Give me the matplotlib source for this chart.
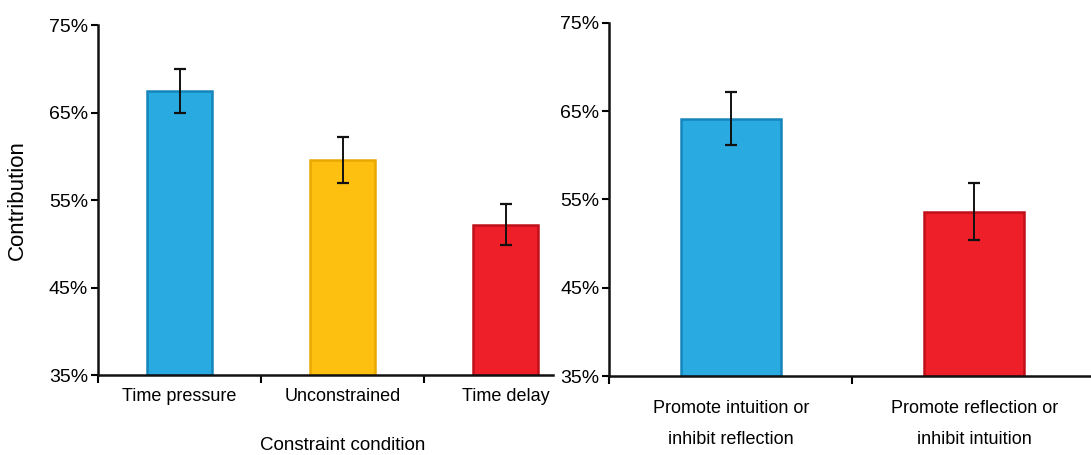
import matplotlib
matplotlib.use("Agg")
import matplotlib.pyplot as plt
from matplotlib.ticker import FixedLocator, NullFormatter
from matplotlib.transforms import blended_transform_factory

# --- data ---------------------------------------------------------------
constraint_labels = ["Time pressure", "Unconstrained", "Time delay"]
constraint_means = [67.5, 59.6, 52.2]
constraint_err = [2.5, 2.6, 2.3]

manip_labels = ["Promote intuition or\ninhibit reflection",
                "Promote reflection or\ninhibit intuition"]
manip_means = [64.1, 53.6]
manip_err = [3.0, 3.2]

yticks = [35, 45, 55, 65, 75]

BLUE, YELLOW, RED = "#29ABE2", "#FDC010", "#EE1F29"
EDGES = {BLUE: "#1585BB", YELLOW: "#E8A800", RED: "#C0101A"}

plt.rcParams["font.family"] = ["Liberation Sans", "DejaVu Sans"]

fig = plt.figure(figsize=(10.91, 4.55), dpi=100)
ax1 = fig.add_axes([0.0898, 0.1758, 0.4170, 0.7692])
ax2 = fig.add_axes([0.5582, 0.1736, 0.4418, 0.7765])


def style(ax, n, xmax, pad):
    ax.set_ylim(35, 75)
    ax.set_xlim(-0.5, xmax)
    ax.set_yticks(yticks)
    ax.set_yticklabels([f"{t}%" for t in yticks], fontsize=14)
    for s in ("top", "right"):
        ax.spines[s].set_visible(False)
    for s in ("left", "bottom"):
        ax.spines[s].set_linewidth(1.8)
        ax.spines[s].set_color("#111111")
    ax.tick_params(axis="y", length=5, width=1.5, pad=2)
    # category labels centred, boundary ticks between them
    ax.set_xticks(range(n))
    ax.tick_params(axis="x", which="major", length=0, pad=pad, labelsize=13)
    ax.xaxis.set_minor_locator(FixedLocator([i - 0.5 for i in range(n + 1)]))
    ax.xaxis.set_minor_formatter(NullFormatter())
    ax.tick_params(axis="x", which="minor", length=6, width=1.5)


def bars(ax, means, errs, colors, width):
    x = range(len(means))
    ax.bar(x, [m - 35 for m in means], bottom=35, width=width, color=colors,
           edgecolor=[EDGES[c] for c in colors], linewidth=1.8, zorder=2)
    ax.errorbar(x, means, yerr=errs, fmt="none", ecolor="#111111",
                elinewidth=1.4, capsize=4, capthick=1.6, zorder=3)


bars(ax1, constraint_means, constraint_err, [BLUE, YELLOW, RED], 0.40)
style(ax1, 3, 2.29, pad=9)
ax1.set_xticklabels(constraint_labels)
ax1.set_ylabel("Contribution", fontsize=16)
ax1.yaxis.set_label_coords(-0.155, 0.5)
# axis title sits under the middle category
ax1.text(1, -0.2, "Constraint condition", fontsize=13.5, ha="center", va="center",
         transform=blended_transform_factory(ax1.transData, ax1.transAxes))

bars(ax2, manip_means, manip_err, [BLUE, RED], 0.41)
style(ax2, 2, 1.48, pad=17)
ax2.set_xticklabels(manip_labels, linespacing=2.1)

fig.savefig("out.png", dpi=100)
